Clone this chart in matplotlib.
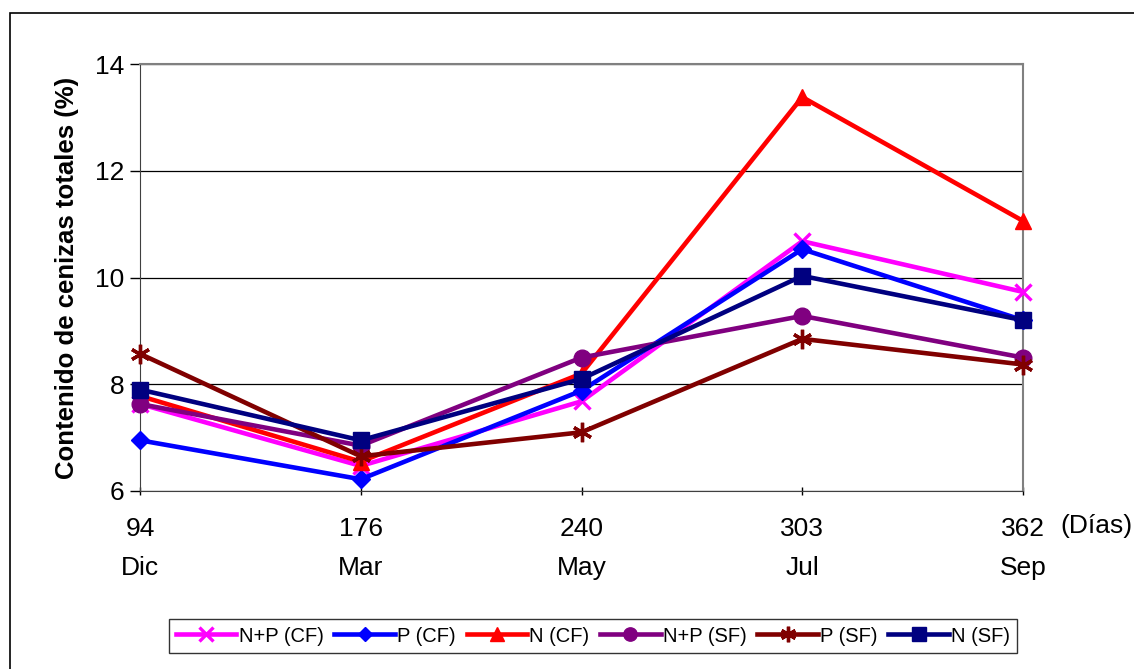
import matplotlib
matplotlib.use("Agg")
import matplotlib.pyplot as plt
from matplotlib.patches import Rectangle
from matplotlib.transforms import blended_transform_factory

plt.rcParams['font.family'] = ['Liberation Sans', 'DejaVu Sans']

days = ["94", "176", "240", "303", "362"]
months = ["Dic", "Mar", "May", "Jul", "Sep"]

np_cf = [7.63, 6.47, 7.68, 10.68, 9.73]
p_cf = [6.95, 6.22, 7.88, 10.53, 9.20]
n_cf = [7.78, 6.55, 8.20, 13.38, 11.06]
np_sf = [7.63, 6.85, 8.50, 9.28, 8.50]
p_sf = [8.57, 6.65, 7.10, 8.85, 8.37]
n_sf = [7.90, 6.95, 8.10, 10.03, 9.20]

series = [
    ("N+P (CF)", np_cf, "#FF00FF", "x", 12),
    ("P (CF)", p_cf, "#0000FF", "D", 9),
    ("N (CF)", n_cf, "#FF0000", "^", 12),
    ("N+P (SF)", np_sf, "#800080", "o", 12),
    ("P (SF)", p_sf, "#800000", (6, 2, 0), 14),
    ("N (SF)", n_sf, "#000080", "s", 12),
]

fig = plt.figure(figsize=(11.34, 6.69), dpi=100)
ax = fig.add_axes([140/1134, 1 - 491/669, (1023-140)/1134, (491-64)/669])

fig.patches.append(Rectangle((10/1134, -0.1), 1.2, 1 - 13/669 + 0.1,
                             transform=fig.transFigure, fill=False,
                             edgecolor="black", linewidth=1.2))

x = list(range(len(days)))
for label, vals, col, mk, ms in series:
    mew = 2.4 if mk == "x" or isinstance(mk, tuple) else 1
    ax.plot(x, vals, color=col, linewidth=3.3, marker=mk, markersize=ms,
            markeredgewidth=mew, markeredgecolor=col, markerfacecolor=col,
            label=label, clip_on=False, zorder=3)

ax.set_xlim(0, 4)
ax.set_ylim(6, 14)
ax.set_yticks([6, 8, 10, 12, 14])
ax.yaxis.grid(True, color="black", linewidth=0.9)
ax.set_axisbelow(True)
ax.set_xticks(x)
ax.set_xticklabels(days, fontsize=19)
ax.tick_params(axis='y', labelsize=19, length=7, width=1, direction='out', pad=4)
ax.tick_params(axis='x', length=6, width=1, direction='inout', pad=16)
for s in ("top", "right"):
    ax.spines[s].set_color("#808080")
    ax.spines[s].set_linewidth(1.5)
ax.spines["left"].set_color("#404040")
ax.spines["bottom"].set_color("#404040")

trans = blended_transform_factory(ax.transData, fig.transFigure)
for xi, m in zip(x, months):
    ax.text(xi, 1 - 568/669, m, transform=trans, ha="center", va="center", fontsize=19)
ax.text(1096/1134, 1 - 526/669, "(Días)", transform=fig.transFigure,
        ha="center", va="center", fontsize=19)

ax.set_ylabel("Contenido de cenizas totales (%)", fontsize=18.5, fontweight="bold", labelpad=12)

leg = fig.legend(loc="center", bbox_to_anchor=(593/1134, 1 - 636/669), ncol=6,
                 fontsize=14.5, frameon=True, fancybox=False, edgecolor="black",
                 handlelength=3.0, handletextpad=0.1, columnspacing=0.55,
                 borderpad=0.35, markerscale=0.8)
leg.get_frame().set_linewidth(1.0)

fig.savefig("out.png", dpi=100)
